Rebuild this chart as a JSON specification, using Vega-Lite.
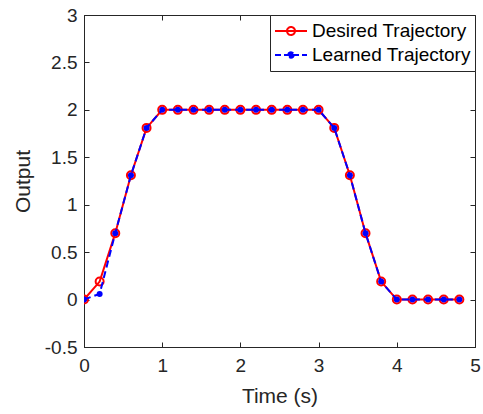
{
  "$schema": "https://vega.github.io/schema/vega-lite/v6.json",
  "width": 391,
  "height": 332,
  "autosize": {"type": "none"},
  "padding": {"left": 84, "top": 15, "right": 8, "bottom": 67},
  "background": "white",
  "config": {
    "view": {"stroke": "#262626", "strokeWidth": 1},
    "font": "Liberation Sans",
    "axis": {
      "grid": false,
      "domainColor": "#262626",
      "tickColor": "#262626",
      "labelColor": "#262626",
      "titleColor": "#262626",
      "labelFont": "Liberation Sans",
      "titleFont": "Liberation Sans",
      "labelFontSize": 19,
      "titleFontSize": 21,
      "titleFontWeight": "normal",
      "tickSize": -5,
      "labelFlush": false,
      "labelOverlap": false
    },
    "legend": {
      "labelFont": "Liberation Sans"
    }
  },
  "data": {
    "values": [
      {"t": 0.0, "series": "Desired Trajectory", "y": 0},
      {"t": 0.2, "series": "Desired Trajectory", "y": 0.19},
      {"t": 0.4, "series": "Desired Trajectory", "y": 0.7},
      {"t": 0.6, "series": "Desired Trajectory", "y": 1.31},
      {"t": 0.8, "series": "Desired Trajectory", "y": 1.81},
      {"t": 1.0, "series": "Desired Trajectory", "y": 2},
      {"t": 1.2, "series": "Desired Trajectory", "y": 2},
      {"t": 1.4, "series": "Desired Trajectory", "y": 2},
      {"t": 1.6, "series": "Desired Trajectory", "y": 2},
      {"t": 1.8, "series": "Desired Trajectory", "y": 2},
      {"t": 2.0, "series": "Desired Trajectory", "y": 2},
      {"t": 2.2, "series": "Desired Trajectory", "y": 2},
      {"t": 2.4, "series": "Desired Trajectory", "y": 2},
      {"t": 2.6, "series": "Desired Trajectory", "y": 2},
      {"t": 2.8, "series": "Desired Trajectory", "y": 2},
      {"t": 3.0, "series": "Desired Trajectory", "y": 2},
      {"t": 3.2, "series": "Desired Trajectory", "y": 1.81},
      {"t": 3.4, "series": "Desired Trajectory", "y": 1.31},
      {"t": 3.6, "series": "Desired Trajectory", "y": 0.7},
      {"t": 3.8, "series": "Desired Trajectory", "y": 0.19},
      {"t": 4.0, "series": "Desired Trajectory", "y": 0},
      {"t": 4.2, "series": "Desired Trajectory", "y": 0},
      {"t": 4.4, "series": "Desired Trajectory", "y": 0},
      {"t": 4.6, "series": "Desired Trajectory", "y": 0},
      {"t": 4.8, "series": "Desired Trajectory", "y": 0},
      {"t": 0.0, "series": "Learned Trajectory", "y": 0},
      {"t": 0.2, "series": "Learned Trajectory", "y": 0.06},
      {"t": 0.4, "series": "Learned Trajectory", "y": 0.7},
      {"t": 0.6, "series": "Learned Trajectory", "y": 1.31},
      {"t": 0.8, "series": "Learned Trajectory", "y": 1.81},
      {"t": 1.0, "series": "Learned Trajectory", "y": 2},
      {"t": 1.2, "series": "Learned Trajectory", "y": 2},
      {"t": 1.4, "series": "Learned Trajectory", "y": 2},
      {"t": 1.6, "series": "Learned Trajectory", "y": 2},
      {"t": 1.8, "series": "Learned Trajectory", "y": 2},
      {"t": 2.0, "series": "Learned Trajectory", "y": 2},
      {"t": 2.2, "series": "Learned Trajectory", "y": 2},
      {"t": 2.4, "series": "Learned Trajectory", "y": 2},
      {"t": 2.6, "series": "Learned Trajectory", "y": 2},
      {"t": 2.8, "series": "Learned Trajectory", "y": 2},
      {"t": 3.0, "series": "Learned Trajectory", "y": 2},
      {"t": 3.2, "series": "Learned Trajectory", "y": 1.81},
      {"t": 3.4, "series": "Learned Trajectory", "y": 1.31},
      {"t": 3.6, "series": "Learned Trajectory", "y": 0.7},
      {"t": 3.8, "series": "Learned Trajectory", "y": 0.19},
      {"t": 4.0, "series": "Learned Trajectory", "y": 0},
      {"t": 4.2, "series": "Learned Trajectory", "y": 0},
      {"t": 4.4, "series": "Learned Trajectory", "y": 0},
      {"t": 4.6, "series": "Learned Trajectory", "y": 0},
      {"t": 4.8, "series": "Learned Trajectory", "y": 0}
    ]
  },
  "resolve": {"axis": {"x": "independent", "y": "independent"}},
  "layer": [
    {
      "transform": [{"filter": "datum.series === 'Desired Trajectory'"}],
      "mark": {"type": "line", "strokeWidth": 2, "clip": true},
      "encoding": {
        "x": {"field": "t", "type": "quantitative", "scale": {"domain": [0, 5], "nice": false},
          "axis": {"orient": "bottom", "title": "Time (s)", "values": [0, 1, 2, 3, 4, 5], "labelExpr": "'' + datum.value", "labelPadding": 14, "titlePadding": 10}},
        "y": {"field": "y", "type": "quantitative", "scale": {"domain": [-0.5, 3], "nice": false, "zero": false},
          "axis": {"orient": "left", "title": "Output", "values": [-0.5, 0, 0.5, 1, 1.5, 2, 2.5, 3], "labelExpr": "'' + datum.value", "labelPadding": 12, "titlePadding": 11}},
        "color": {"field": "series", "type": "nominal",
          "scale": {"domain": ["Desired Trajectory", "Learned Trajectory"], "range": ["#ff0000", "#0000ff"]},
          "legend": {
            "title": null,
            "orient": "top-right",
            "offset": 0,
            "padding": 4,
            "strokeColor": "#262626",
            "fillColor": "white",
            "labelFontSize": 19,
            "labelColor": "#000000",
            "labelOffset": 4,
            "symbolSize": 1024,
            "symbolStrokeWidth": 2,
            "clipHeight": 24,
            "rowPadding": 0,
            "symbolOffset": 0,
            "encode": {
              "symbols": {
                "update": {
                  "shape": {"signal": "datum.value === 'Desired Trajectory' ? 'M-1,0L1,0M0.25,0A0.25,0.25,0,1,1,-0.25,0A0.25,0.25,0,1,1,0.25,0' : 'M-1,0L1,0M0.17,0A0.17,0.17,0,1,1,-0.17,0A0.17,0.17,0,1,1,0.17,0'"},
                  "fill": {"signal": "datum.value === 'Desired Trajectory' ? 'transparent' : '#0000ff'"},
                  "strokeDash": {"signal": "datum.value === 'Desired Trajectory' ? [1, 0] : [6, 3]"}
                }
              }
            }
          }}
      }
    },
    {
      "transform": [{"filter": "datum.series === 'Desired Trajectory'"}],
      "mark": {"type": "point", "shape": "circle", "filled": false, "stroke": "#ff0000", "strokeWidth": 2, "size": 64, "opacity": 1, "clip": true},
      "encoding": {
        "x": {"field": "t", "type": "quantitative", "axis": {"orient": "top", "title": null, "labels": false, "values": [0, 1, 2, 3, 4, 5], "domain": false}},
        "y": {"field": "y", "type": "quantitative", "axis": {"orient": "right", "title": null, "labels": false, "values": [-0.5, 0, 0.5, 1, 1.5, 2, 2.5, 3], "domain": false}}
      }
    },
    {
      "transform": [{"filter": "datum.series === 'Learned Trajectory'"}],
      "mark": {"type": "line", "strokeWidth": 2, "color": "#0000ff", "strokeDash": [7, 4], "clip": true},
      "encoding": {
        "x": {"field": "t", "type": "quantitative", "axis": null},
        "y": {"field": "y", "type": "quantitative", "axis": null}
      }
    },
    {
      "transform": [{"filter": "datum.series === 'Learned Trajectory'"}],
      "mark": {"type": "point", "shape": "circle", "filled": true, "color": "#0000ff", "size": 36, "opacity": 1, "clip": true},
      "encoding": {
        "x": {"field": "t", "type": "quantitative", "axis": null},
        "y": {"field": "y", "type": "quantitative", "axis": null}
      }
    }
  ]
}
